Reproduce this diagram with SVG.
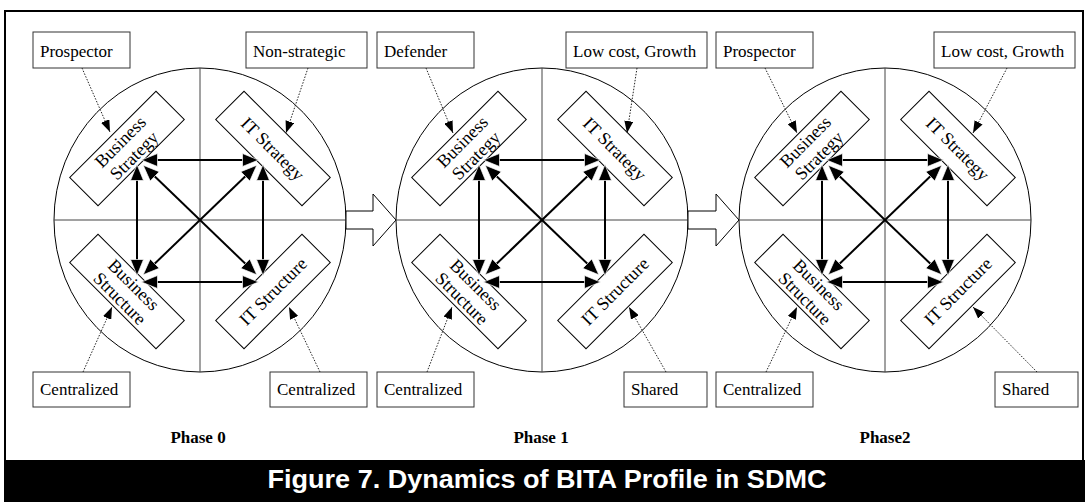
<svg xmlns="http://www.w3.org/2000/svg" width="1085" height="502" viewBox="0 0 1085 502">
<style>
.frame{fill:#fff;stroke:#000;stroke-width:2}
.circ{fill:none;stroke:#000;stroke-width:1}
.cross{stroke:#444;stroke-width:1}
.quad{fill:#fff;stroke:#000;stroke-width:1}
.qt{font-family:"Liberation Serif","Times New Roman",serif;font-size:18px;fill:#000;text-anchor:middle}
.lbox{fill:#fff;stroke:#333;stroke-width:1}
.lt{font-family:"Liberation Serif","Times New Roman",serif;font-size:17px;fill:#000}
.phase{font-family:"Liberation Serif","Times New Roman",serif;font-size:17px;font-weight:bold;fill:#000;text-anchor:middle}
.dbl{stroke:#000;stroke-width:2;fill:none;marker-start:url(#ah);marker-end:url(#ah)}
.dot{stroke:#222;stroke-width:1;stroke-dasharray:1.5,1.5;fill:none;marker-end:url(#dh)}
.block{fill:#fff;stroke:#000;stroke-width:1}
.title{font-family:"Liberation Sans",Arial,sans-serif;font-size:26px;font-weight:bold;fill:#fff;text-anchor:middle}
</style>
<defs>
<marker id="ah" viewBox="0 0 17 14" refX="14" refY="7" markerWidth="17" markerHeight="14" markerUnits="userSpaceOnUse" orient="auto-start-reverse">
<path d="M0.5,0.5 L16.5,7 L0.5,13.5 z" fill="#000" stroke="#fff" stroke-width="0.7"/>
</marker>
<marker id="dh" viewBox="0 0 12 9" refX="12" refY="4.5" markerWidth="12" markerHeight="9" markerUnits="userSpaceOnUse" orient="auto">
<path d="M0,0 L12,4.5 L0,9 z" fill="#000"/>
</marker>
<g id="wheel">
<ellipse class="circ" cx="0" cy="220" rx="146" ry="152"/>
<line class="cross" x1="-146" y1="220" x2="146" y2="220"/>
<line class="cross" x1="0" y1="68" x2="0" y2="372"/>
</g>
</defs>

<rect class="frame" x="5" y="11" width="1078" height="452"/>
<rect x="4" y="460" width="1081" height="42" fill="#000"/>
<text class="title" x="547" y="488" textLength="559" lengthAdjust="spacingAndGlyphs">Figure 7. Dynamics of BITA Profile in SDMC</text>

<!-- Phase 0 -->
<g id="phase0" transform="translate(200,0)">
<use href="#wheel"/>
<g id="p0-business-strategy" transform="translate(-73,148.5) rotate(-45)">
<rect class="quad" x="-61" y="-20" width="122" height="40"/>
<text class="qt" x="0" y="-3.5">Business</text><text class="qt" x="0" y="16">Strategy</text>
</g>
<g id="p0-it-strategy" transform="translate(73,148.5) rotate(45)">
<rect class="quad" x="-61" y="-20" width="122" height="40"/>
<text class="qt" x="0" y="6.5">IT Strategy</text>
</g>
<g id="p0-business-structure" transform="translate(-73,291.5) rotate(45)">
<rect class="quad" x="-61" y="-20" width="122" height="40"/>
<text class="qt" x="0" y="-3.5">Business</text><text class="qt" x="0" y="16">Structure</text>
</g>
<g id="p0-it-structure" transform="translate(73,291.5) rotate(-45)">
<rect class="quad" x="-61" y="-20" width="122" height="40"/>
<text class="qt" x="0" y="6">IT Structure</text>
</g>
<text class="phase" x="-2" y="443">Phase 0</text>
</g>
<g id="p0-prospector"><rect class="lbox" x="33" y="32" width="97" height="36"/><text class="lt" x="40" y="57">Prospector</text></g>
<g id="p0-nonstrategic"><rect class="lbox" x="246" y="32" width="121" height="36"/><text class="lt" x="253" y="57">Non-strategic</text></g>
<g id="p0-centralized-b"><rect class="lbox" x="33" y="372" width="97" height="35"/><text class="lt" x="40" y="395">Centralized</text></g>
<g id="p0-centralized-it"><rect class="lbox" x="270" y="372" width="97" height="35"/><text class="lt" x="277" y="395">Centralized</text></g>

<!-- Phase 1 -->
<g id="phase1" transform="translate(542,0)">
<use href="#wheel"/>
<g id="p1-business-strategy" transform="translate(-73,148.5) rotate(-45)">
<rect class="quad" x="-61" y="-20" width="122" height="40"/>
<text class="qt" x="0" y="-3.5">Business</text><text class="qt" x="0" y="16">Strategy</text>
</g>
<g id="p1-it-strategy" transform="translate(73,148.5) rotate(45)">
<rect class="quad" x="-61" y="-20" width="122" height="40"/>
<text class="qt" x="0" y="6.5">IT Strategy</text>
</g>
<g id="p1-business-structure" transform="translate(-73,291.5) rotate(45)">
<rect class="quad" x="-61" y="-20" width="122" height="40"/>
<text class="qt" x="0" y="-3.5">Business</text><text class="qt" x="0" y="16">Structure</text>
</g>
<g id="p1-it-structure" transform="translate(73,291.5) rotate(-45)">
<rect class="quad" x="-61" y="-20" width="122" height="40"/>
<text class="qt" x="0" y="6">IT Structure</text>
</g>
<text class="phase" x="-1" y="443">Phase 1</text>
</g>
<g id="p1-defender"><rect class="lbox" x="377" y="32" width="97" height="36"/><text class="lt" x="384" y="57">Defender</text></g>
<g id="p1-lowcost"><rect class="lbox" x="566" y="32" width="141" height="36"/><text class="lt" x="573" y="57">Low cost, Growth</text></g>
<g id="p1-centralized"><rect class="lbox" x="377" y="372" width="97" height="35"/><text class="lt" x="384" y="395">Centralized</text></g>
<g id="p1-shared"><rect class="lbox" x="624" y="372" width="83" height="35"/><text class="lt" x="631" y="395">Shared</text></g>

<!-- Phase 2 -->
<g id="phase2" transform="translate(885,0)">
<use href="#wheel"/>
<g id="p2-business-strategy" transform="translate(-73,148.5) rotate(-45)">
<rect class="quad" x="-61" y="-20" width="122" height="40"/>
<text class="qt" x="0" y="-3.5">Business</text><text class="qt" x="0" y="16">Strategy</text>
</g>
<g id="p2-it-strategy" transform="translate(73,148.5) rotate(45)">
<rect class="quad" x="-61" y="-20" width="122" height="40"/>
<text class="qt" x="0" y="6.5">IT Strategy</text>
</g>
<g id="p2-business-structure" transform="translate(-73,291.5) rotate(45)">
<rect class="quad" x="-61" y="-20" width="122" height="40"/>
<text class="qt" x="0" y="-3.5">Business</text><text class="qt" x="0" y="16">Structure</text>
</g>
<g id="p2-it-structure" transform="translate(73,291.5) rotate(-45)">
<rect class="quad" x="-61" y="-20" width="122" height="40"/>
<text class="qt" x="0" y="6">IT Structure</text>
</g>
<text class="phase" x="0" y="443">Phase2</text>
</g>
<g id="p2-prospector"><rect class="lbox" x="716" y="32" width="97" height="36"/><text class="lt" x="723" y="57">Prospector</text></g>
<g id="p2-lowcost"><rect class="lbox" x="934" y="32" width="141" height="36"/><text class="lt" x="941" y="57">Low cost, Growth</text></g>
<g id="p2-centralized"><rect class="lbox" x="716" y="372" width="97" height="35"/><text class="lt" x="723" y="395">Centralized</text></g>
<g id="p2-shared"><rect class="lbox" x="995" y="372" width="83" height="35"/><text class="lt" x="1002" y="395">Shared</text></g>

<g id="connectors">
<g transform="translate(200,0)">
<line class="dbl" x1="-56" y1="160" x2="56" y2="160"/>
<line class="dbl" x1="-56" y1="282" x2="56" y2="282"/>
<line class="dbl" x1="-63" y1="167" x2="-63" y2="273"/>
<line class="dbl" x1="63" y1="167" x2="63" y2="273"/>
<line class="dbl" x1="-55" y1="167" x2="55" y2="273"/>
<line class="dbl" x1="55" y1="167" x2="-55" y2="273"/>
</g>
<g transform="translate(542,0)">
<line class="dbl" x1="-56" y1="160" x2="56" y2="160"/>
<line class="dbl" x1="-56" y1="282" x2="56" y2="282"/>
<line class="dbl" x1="-63" y1="167" x2="-63" y2="273"/>
<line class="dbl" x1="63" y1="167" x2="63" y2="273"/>
<line class="dbl" x1="-55" y1="167" x2="55" y2="273"/>
<line class="dbl" x1="55" y1="167" x2="-55" y2="273"/>
</g>
<g transform="translate(885,0)">
<line class="dbl" x1="-56" y1="160" x2="56" y2="160"/>
<line class="dbl" x1="-56" y1="282" x2="56" y2="282"/>
<line class="dbl" x1="-63" y1="167" x2="-63" y2="273"/>
<line class="dbl" x1="63" y1="167" x2="63" y2="273"/>
<line class="dbl" x1="-55" y1="167" x2="55" y2="273"/>
<line class="dbl" x1="55" y1="167" x2="-55" y2="273"/>
</g>
<line class="dot" x1="82" y1="68" x2="110" y2="132"/>
<line class="dot" x1="308" y1="68" x2="286" y2="133"/>
<line class="dot" x1="83" y1="372" x2="112" y2="307"/>
<line class="dot" x1="320" y1="372" x2="289" y2="307"/>
<line class="dot" x1="426" y1="68" x2="453" y2="133"/>
<line class="dot" x1="637" y1="68" x2="627" y2="133"/>
<line class="dot" x1="427" y1="372" x2="452" y2="307"/>
<line class="dot" x1="666" y1="372" x2="629" y2="307"/>
<line class="dot" x1="765" y1="68" x2="797" y2="133"/>
<line class="dot" x1="1007" y1="68" x2="973" y2="133"/>
<line class="dot" x1="766" y1="372" x2="797" y2="307"/>
<line class="dot" x1="1037" y1="372" x2="973" y2="307"/>
<polygon class="block" points="346,211 373,211 373,194 396,220 373,246 373,229 346,229"/>
<polygon class="block" points="688,211 716,211 716,194 739,220 716,246 716,229 688,229"/>
</g>
</svg>
